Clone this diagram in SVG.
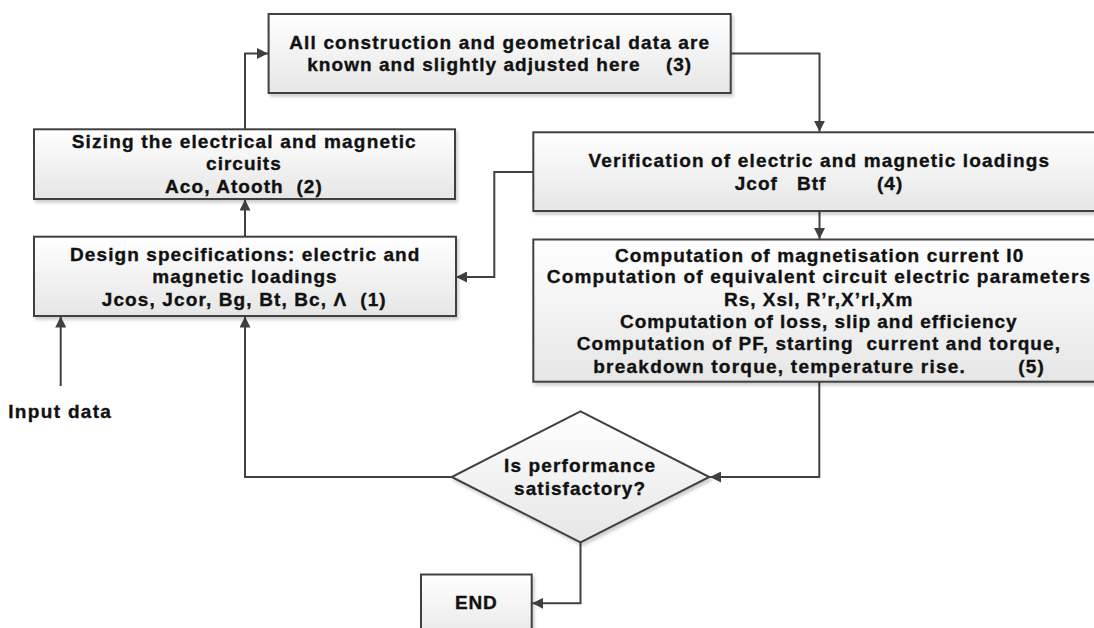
<svg xmlns="http://www.w3.org/2000/svg" width="1094" height="628" viewBox="0 0 1094 628">
<defs>
<linearGradient id="g" x1="0" y1="0" x2="0" y2="1">
<stop offset="0" stop-color="#ffffff"/>
<stop offset="1" stop-color="#e6e6e6"/>
</linearGradient>
<filter id="sh" x="-5%" y="-5%" width="115%" height="125%">
<feDropShadow dx="2" dy="3" stdDeviation="1.5" flood-color="#000" flood-opacity="0.18"/>
</filter>
<marker id="ah" markerUnits="userSpaceOnUse" markerWidth="12" markerHeight="11" refX="11" refY="5.5" orient="auto">
<path d="M0,0 L11,5.5 L0,11 Z" fill="#404040"/>
</marker>
</defs>
<style>
.box{fill:url(#g);stroke:#404040;stroke-width:2;filter:url(#sh)}
.t{font-family:"Liberation Sans",Arial,sans-serif;font-weight:bold;font-size:19px;fill:#111;stroke:#111;stroke-width:0.35;text-anchor:middle}
.c{fill:none;stroke:#404040;stroke-width:2;marker-end:url(#ah)}
</style>
<rect width="1094" height="628" fill="#ffffff"/>

<g id="connectors">
<path class="c" d="M245,236.7 V199.5"/>
<path class="c" d="M245,129 V53.5 H268"/>
<path class="c" d="M730.7,53.5 H819.5 V131.8"/>
<path class="c" d="M819.5,211 V239"/>
<path class="c" d="M533.3,172 H494.3 V277 H456"/>
<path class="c" d="M819.3,381.7 V477 H710"/>
<path class="c" d="M451.7,477 H245 V316.5"/>
<path class="c" d="M60.7,386 V316.5"/>
<path class="c" d="M580.5,542.3 V603.3 H532.2"/>
</g>

<g id="node-input">
<text class="t" x="59.6" y="418" textLength="102.7" lengthAdjust="spacing">Input data</text>
</g>

<g id="node-3">
<rect class="box" x="268.6" y="14" width="462.1" height="79"/>
<text class="t" x="499.2" y="49" textLength="420" lengthAdjust="spacing">All construction and geometrical data are</text>
<text class="t" x="499.2" y="71" textLength="384" lengthAdjust="spacing" xml:space="preserve">known and slightly adjusted here    (3)</text>
</g>

<g id="node-2">
<rect class="box" x="34" y="129.3" width="421" height="69.7"/>
<text class="t" x="243.7" y="148.4" textLength="344" lengthAdjust="spacing">Sizing the electrical and magnetic</text>
<text class="t" x="243.4" y="170" textLength="74.7" lengthAdjust="spacing">circuits</text>
<text class="t" x="243.4" y="192.7" textLength="156.7" lengthAdjust="spacing" xml:space="preserve">Aco, Atooth  (2)</text>
</g>

<g id="node-1">
<rect class="box" x="34" y="236.7" width="422" height="79.3"/>
<text class="t" x="244.7" y="260.7" textLength="349.3" lengthAdjust="spacing">Design specifications: electric and</text>
<text class="t" x="244.5" y="282.7" textLength="184.4" lengthAdjust="spacing">magnetic loadings</text>
<text class="t" x="243.7" y="306" textLength="284" lengthAdjust="spacing" xml:space="preserve">Jcos, Jcor, Bg, Bt, Bc, Λ  (1)</text>
</g>

<g id="node-4">
<rect class="box" x="533.3" y="132.3" width="572" height="78.7"/>
<text class="t" x="818.7" y="166.7" textLength="460.6" lengthAdjust="spacing">Verification of electric and magnetic loadings</text>
<text class="t" x="818.5" y="189.7" textLength="167.6" lengthAdjust="spacing" xml:space="preserve">Jcof   Btf        (4)</text>
</g>

<g id="node-5">
<rect class="box" x="533.3" y="239.5" width="572" height="142.2"/>
<text class="t" x="819.1" y="261.7" textLength="408.3" lengthAdjust="spacing">Computation of magnetisation current I0</text>
<text class="t" x="818.4" y="283.4" textLength="543.3" lengthAdjust="spacing">Computation of equivalent circuit electric parameters</text>
<text class="t" x="818.2" y="306" textLength="188.3" lengthAdjust="spacing">Rs, Xsl, R’r,X’rl,Xm</text>
<text class="t" x="818.3" y="327.7" textLength="396.7" lengthAdjust="spacing">Computation of loss, slip and efficiency</text>
<text class="t" x="818.3" y="350" textLength="483.3" lengthAdjust="spacing" xml:space="preserve">Computation of PF, starting  current and torque,</text>
<text class="t" x="818.6" y="372.7" textLength="450.7" lengthAdjust="spacing" xml:space="preserve">breakdown torque, temperature rise.        (5)</text>
</g>

<g id="node-decision">
<polygon class="box" points="580.5,411.3 709.3,477 580.5,542.3 451.7,477"/>
<text class="t" x="579.5" y="472.4" textLength="151" lengthAdjust="spacing">Is performance</text>
<text class="t" x="579.5" y="494.7" textLength="131" lengthAdjust="spacing">satisfactory?</text>
</g>

<g id="node-end">
<rect class="box" x="421" y="574.5" width="110.7" height="70"/>
<text class="t" x="475.8" y="608.7" textLength="41.7" lengthAdjust="spacing">END</text>
</g>
</svg>
